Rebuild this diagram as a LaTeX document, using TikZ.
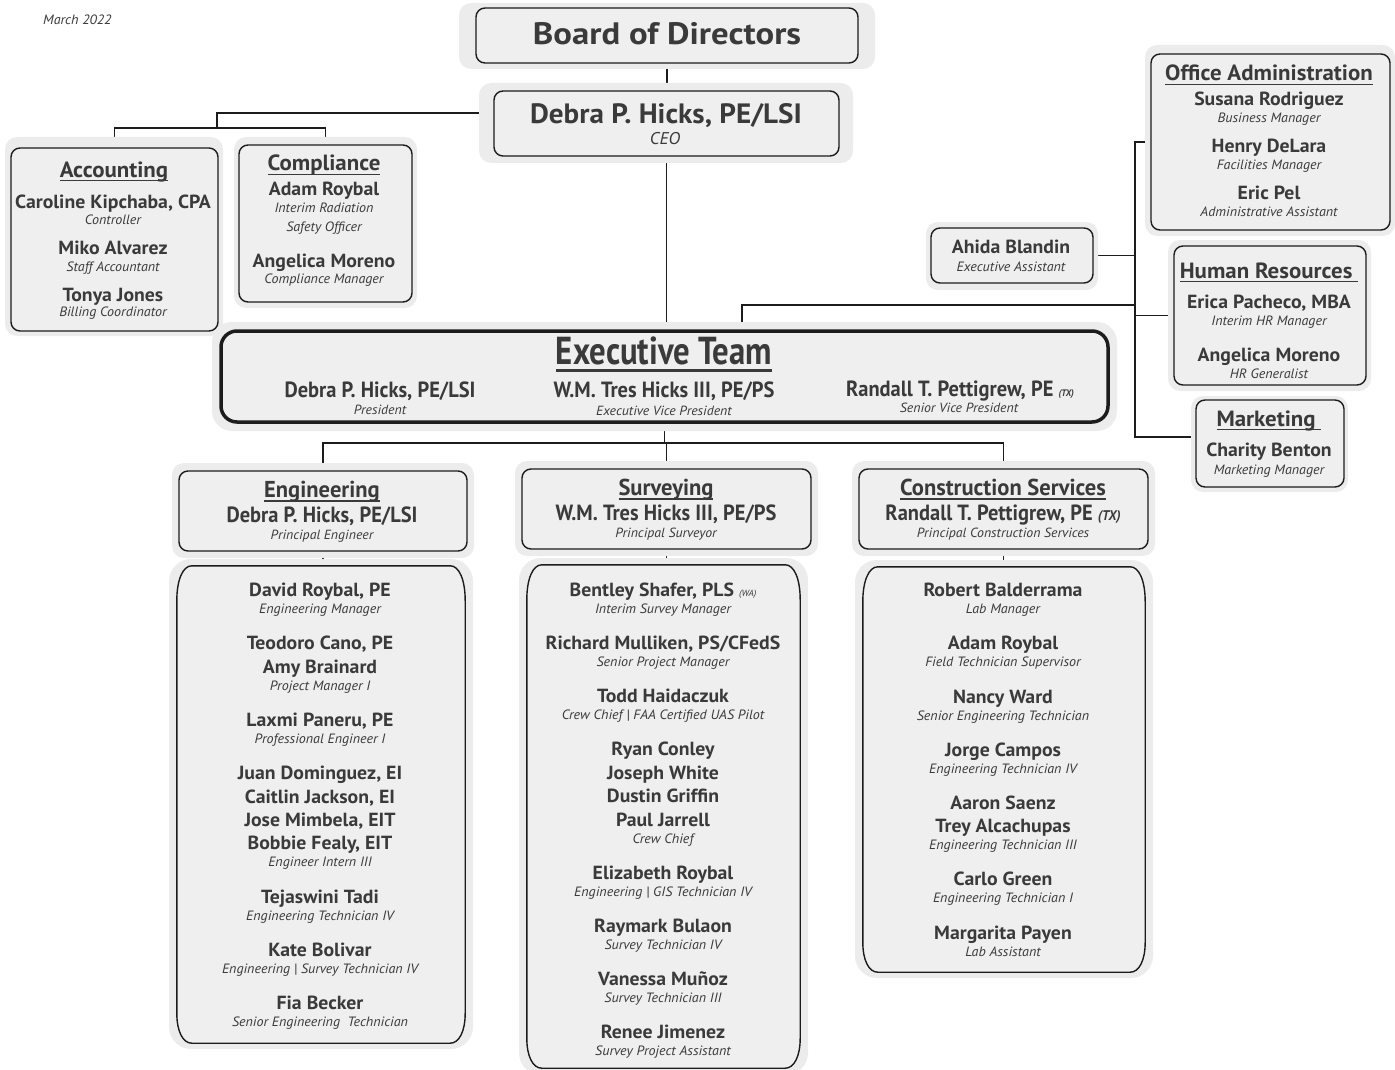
\documentclass[tikz,border=0pt]{standalone}
\usepackage{fontspec}
\setmainfont{PT Sans}[FakeStretch=1.04]
\newfontfamily\condfont{PT Sans}[FakeStretch=0.93]
\newfontfamily\hdfont{PT Sans}[FakeStretch=0.98]
\newfontfamily\xcondfont{PT Sans}[FakeStretch=0.84]
\newfontfamily\bigfont{PT Sans}[FakeStretch=1.12]
\usetikzlibrary{calc,backgrounds}
\definecolor{txt}{RGB}{58,58,58}
\definecolor{boxfill}{RGB}{239,239,239}
\definecolor{halofill}{RGB}{236,236,236}
\definecolor{ln}{RGB}{28,28,28}
\newcounter{tn}
\newcommand\T[4]{\stepcounter{tn}\node[#1] (t\arabic{tn}) at (#2,#3) {#4};}
\newcommand\Bx[6]{\node[#6, minimum width={#4-#2}, minimum height={#5-#3}] (#1) at ({(#2+#4)/2},{(#3+#5)/2}) {};}
\newcommand\Ha[5][12]{\fill[halofill, rounded corners=#1] (#2,#3) rectangle (#4,#5);}
\newcommand\myul[1]{\setbox0\hbox{#1}\rlap{\rule[-0.2em]{\wd0}{0.075em}}\box0}
\newcommand\Tab[1]{\draw[listbox] ($(#1.north west)+(15,0)$) -- ($(#1.north east)+(-15,0)$)
 .. controls ($(#1.north east)+(-6,0)$) and ($(#1.north east)+(0,14)$) .. ($(#1.north east)+(0,35)$)
 -- ($(#1.south east)+(0,-30)$)
 .. controls ($(#1.south east)+(0,-12)$) and ($(#1.south east)+(-6,0)$) .. ($(#1.south east)+(-15,0)$)
 -- ($(#1.south west)+(15,0)$)
 .. controls ($(#1.south west)+(6,0)$) and ($(#1.south west)+(0,-12)$) .. ($(#1.south west)+(0,-30)$)
 -- ($(#1.north west)+(0,35)$)
 .. controls ($(#1.north west)+(0,14)$) and ($(#1.north west)+(6,0)$) .. cycle;}
\begin{document}
\begin{tikzpicture}[x=1pt,y=-1pt,
  box/.style={draw=ln, line width=1.4pt, fill=boxfill, rounded corners=9pt, inner sep=0pt},
  exbox/.style={draw=ln, line width=3.5pt, fill=boxfill, rounded corners=16pt, inner sep=0pt},
  phantom/.style={inner sep=0pt},
  listbox/.style={draw=ln, line width=1.4pt, fill=boxfill},
  conn/.style={draw=ln, line width=1.8pt},
  base/.style={anchor=base, inner sep=0pt, text=txt},
  nm/.style={base, font=\bfseries\fontsize{19}{21}\selectfont},
  rl/.style={base, font=\itshape\fontsize{13.5}{15}\selectfont},
  rlb/.style={base, font=\itshape\fontsize{17}{19}\selectfont},
  hd/.style={base, font=\bfseries\fontsize{22}{24}\selectfont},
  big/.style={base, font=\bigfont\bfseries\fontsize{31}{34}\selectfont},
  ceon/.style={base, font=\bfseries\fontsize{28}{30}\selectfont},
  cnm/.style={base, font=\condfont\bfseries\fontsize{22}{24}\selectfont},
  crl/.style={base, font=\itshape\fontsize{13.3}{15}\selectfont},
  chd/.style={base, font=\hdfont\bfseries\fontsize{23}{25}\selectfont},
  ext/.style={base, font=\xcondfont\bfseries\fontsize{39}{41}\selectfont}]
\useasboundingbox (0,0) rectangle (1395,1070);

% ---- boxes ----
\Bx{board}{476}{8}{858}{63}{box}
\Bx{ceo}{494}{91}{839}{156}{box}
\Bx{acc}{11}{148}{218}{331}{box}
\Bx{comp}{239}{145}{412}{302}{box}
\Bx{offadm}{1151}{54}{1390}{230}{box}
\Bx{ahida}{931}{228}{1093}{283}{box}
\Bx{hr}{1174}{246}{1366}{385}{box}
\Bx{mkt}{1196}{400}{1344}{487}{box}
\Bx{exec}{221}{331}{1108}{422}{exbox}
\Bx{eng}{179}{471}{467}{551}{box}
\Bx{surv}{522}{469}{811}{549}{box}
\Bx{cons}{859}{469}{1148}{549}{box}
\Bx{englist}{177}{566}{465}{1043}{phantom}
\Bx{survlist}{527}{565}{800}{1068}{phantom}
\Bx{conslist}{863}{567}{1145}{972}{phantom}
\Tab{englist}
\Tab{survlist}
\Tab{conslist}

% ---- connectors and halos ----
\begin{scope}[on background layer]
\coordinate (j1) at (217,128);
\coordinate (c113) at (217,113);
\coordinate (j2) at (665,443);
\coordinate (vx) at (1135,305);
\coordinate (mj) at (1135,437);
\coordinate (e742) at (742,305);
\draw[conn] (board.south) -- (board.south |- ceo.north);
\draw[conn] (ceo.south) -- (ceo.south |- exec.north);
\draw[conn] (c113 -| ceo.west) -- (c113) -- (j1);
\draw[conn] (acc.north) |- (comp.north |- j1) -- (comp.north);
\draw[conn] (exec.south) -- (exec.south |- j2);
\draw[conn] (eng.north) |- (cons.north |- j2) -- (cons.north);
\draw[conn] (surv.north) -- (surv.north |- j2);
\draw[conn] (eng.south) -- (eng.south |- englist.north);
\draw[conn] (surv.south) -- (surv.south |- survlist.north);
\draw[conn] (cons.south) -- (cons.south |- conslist.north);
\draw[conn] (offadm.west) -| (mj) -- (mj -| mkt.west);
\draw[conn] (ahida.east) -- (ahida.east -| vx);
\draw[conn] (hr.west) -- (hr.west -| vx);
\draw[conn] (e742 |- exec.north) -- (e742) -- (vx);
\Ha{459}{3}{875}{69}
\Ha{479}{83}{853}{163}
\Ha{5}{137}{223}{336}
\Ha{234}{137}{417}{308}
\Ha{1145}{45}{1395}{236}
\Ha{926}{222}{1098}{290}
\Ha{1168}{240}{1371}{391}
\Ha{1191}{396}{1348}{492}
\Ha[20]{212}{322}{1117}{431}
\Ha{172}{463}{474}{558}
\Ha{515}{461}{818}{556}
\Ha{852}{461}{1155}{556}
\Ha[22]{169}{559}{473}{1049}
\Ha[22]{519}{558}{808}{1075}
\Ha[22]{855}{560}{1153}{978}
\end{scope}

% ---- text ----
\T{rl, anchor=base west}{43}{25}{March 2022}
\T{big}{667}{45}{Board of Directors}
\T{ceon}{666}{124}{Debra P. Hicks, PE/LSI}
\T{rlb}{665}{145}{CEO}

\T{hd}{114}{177}{\myul{Accounting}}
\T{nm}{113}{208}{Caroline Kipchaba, CPA}
\T{rl}{113}{224}{Controller}
\T{nm}{113}{254}{Miko Alvarez}
\T{rl}{113}{271}{Staff Accountant}
\T{nm}{113}{301}{Tonya Jones}
\T{rl}{113}{316}{Billing Coordinator}

\T{hd}{324}{171}{\myul{Compliance}}
\T{nm}{324}{195}{Adam Roybal}
\T{rl}{324}{212}{Interim Radiation}
\T{rl}{324}{231}{Safety Officer}
\T{nm}{324}{267}{Angelica Moreno}
\T{rl}{324}{283}{Compliance Manager}

\T{hd}{1269}{81}{\myul{Office Administration}}
\T{nm}{1269}{106}{Susana Rodriguez}
\T{rl}{1269}{123}{Business Manager}
\T{nm}{1269}{153}{Henry DeLara}
\T{rl}{1269}{170}{Facilities Manager}
\T{nm}{1269}{199}{Eric Pel}
\T{rl}{1269}{216}{Administrative Assistant}

\T{nm}{1011}{253}{Ahida Blandin}
\T{rl}{1011}{271}{Executive Assistant}

\T{hd}{1269}{278}{\myul{Human Resources\ }}
\T{nm}{1269}{308}{Erica Pacheco, MBA}
\T{rl}{1269}{325}{Interim HR Manager}
\T{nm}{1269}{361}{Angelica Moreno}
\T{rl}{1269}{378}{HR Generalist}

\T{hd}{1269}{426}{\myul{Marketing\ }}
\T{nm}{1269}{456}{Charity Benton}
\T{rl}{1269}{474}{Marketing Manager}

\T{ext}{664}{364}{\myul{Executive Team}}
\T{cnm}{380}{397}{Debra P. Hicks, PE/LSI}
\T{crl}{380}{414}{President}
\T{cnm}{664}{397}{W.M. Tres Hicks III, PE/PS}
\T{crl}{664}{415}{Executive Vice President}
\T{cnm}{960}{396}{Randall T. Pettigrew, PE {\itshape\fontsize{9.5}{10}\selectfont(TX)}}
\T{crl}{959}{412}{Senior Vice President}

\T{chd}{322}{497}{\myul{Engineering}}
\T{cnm}{322}{522}{Debra P. Hicks, PE/LSI}
\T{crl}{322}{539}{Principal Engineer}
\T{chd}{666}{495}{\myul{Surveying}}
\T{cnm}{666}{520}{W.M. Tres Hicks III, PE/PS}
\T{crl}{666}{537}{Principal Surveyor}
\T{chd}{1003}{495}{\myul{Construction Services}}
\T{cnm}{1003}{520}{Randall T. Pettigrew, PE {\itshape\fontsize{14}{15}\selectfont(TX)}}
\T{crl}{1003}{537}{Principal Construction Services}

% engineering list
\T{nm}{320}{596}{David Roybal, PE}
\T{rl}{320}{613}{Engineering Manager}
\T{nm}{320}{649}{Teodoro Cano, PE}
\T{nm}{320}{673}{Amy Brainard}
\T{rl}{320}{690}{Project Manager I}
\T{nm}{320}{726}{Laxmi Paneru, PE}
\T{rl}{320}{743}{Professional Engineer I}
\T{nm}{320}{779}{Juan Dominguez, EI}
\T{nm}{320}{803}{Caitlin Jackson, EI}
\T{nm}{320}{826}{Jose Mimbela, EIT}
\T{nm}{320}{849}{Bobbie Fealy, EIT}
\T{rl}{320}{866}{Engineer Intern III}
\T{nm}{320}{903}{Tejaswini Tadi}
\T{rl}{320}{920}{Engineering Technician IV}
\T{nm}{320}{956}{Kate Bolivar}
\T{rl}{320}{973}{Engineering | Survey Technician IV}
\T{nm}{320}{1009}{Fia Becker}
\T{rl}{320}{1026}{Senior Engineering~ Technician}

% surveying list
\T{nm}{663}{596}{Bentley Shafer, PLS {\itshape\mdseries\fontsize{9}{10}\selectfont(WA)}}
\T{rl}{663}{613}{Interim Survey Manager}
\T{nm}{663}{649}{Richard Mulliken, PS/CFedS}
\T{rl}{663}{666}{Senior Project Manager}
\T{nm}{663}{702}{Todd Haidaczuk}
\T{rl}{663}{719}{Crew Chief | FAA Certified UAS Pilot}
\T{nm}{663}{755}{Ryan Conley}
\T{nm}{663}{779}{Joseph White}
\T{nm}{663}{802}{Dustin Griffin}
\T{nm}{663}{826}{Paul Jarrell}
\T{rl}{663}{843}{Crew Chief}
\T{nm}{663}{879}{Elizabeth Roybal}
\T{rl}{663}{896}{Engineering | GIS Technician IV}
\T{nm}{663}{932}{Raymark Bulaon}
\T{rl}{663}{949}{Survey Technician IV}
\T{nm}{663}{985}{Vanessa Muñoz}
\T{rl}{663}{1002}{Survey Technician III}
\T{nm}{663}{1038}{Renee Jimenez}
\T{rl}{663}{1055}{Survey Project Assistant}

% construction list
\T{nm}{1003}{596}{Robert Balderrama}
\T{rl}{1003}{613}{Lab Manager}
\T{nm}{1003}{649}{Adam Roybal}
\T{rl}{1003}{666}{Field Technician Supervisor}
\T{nm}{1003}{703}{Nancy Ward}
\T{rl}{1003}{720}{Senior Engineering Technician}
\T{nm}{1003}{756}{Jorge Campos}
\T{rl}{1003}{773}{Engineering Technician IV}
\T{nm}{1003}{809}{Aaron Saenz}
\T{nm}{1003}{832}{Trey Alcachupas}
\T{rl}{1003}{849}{Engineering Technician III}
\T{nm}{1003}{885}{Carlo Green}
\T{rl}{1003}{902}{Engineering Technician I}
\T{nm}{1003}{939}{Margarita Payen}
\T{rl}{1003}{956}{Lab Assistant}
\end{tikzpicture}
\end{document}
